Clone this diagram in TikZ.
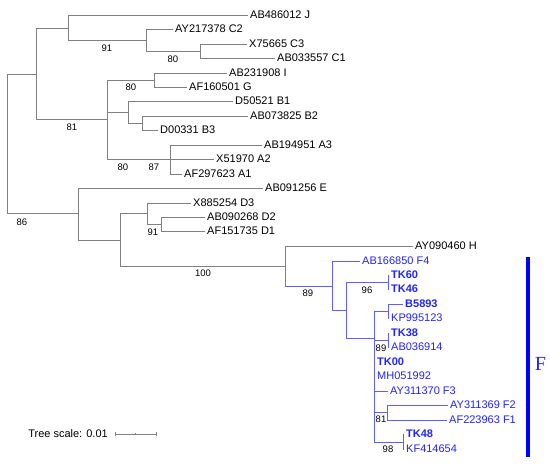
\documentclass[tikz,border=0pt]{standalone}
\usepackage{fontspec}
\usetikzlibrary{calc}
\setmainfont{Liberation Sans}
\newfontfamily\serifF{Liberation Serif}
\definecolor{brgray}{RGB}{128,128,128}
\definecolor{brblue}{RGB}{95,95,255}
\definecolor{txblue}{RGB}{35,35,255}
\definecolor{barblue}{RGB}{0,0,255}
\tikzset{
  leaf/.style={anchor=west, inner xsep=2pt, inner ysep=0pt, font=\fontsize{11}{11}\selectfont, text height=7.9pt, text depth=0pt},
  bleaf/.style={leaf, text=txblue},
  bbold/.style={leaf, text=txblue, font=\fontsize{11}{11}\selectfont\bfseries},
  boot/.style={font=\fontsize{9.5}{9.5}\selectfont, inner sep=0pt},
  gbr/.style={draw=brgray, line width=0.9pt},
  bbr/.style={draw=brblue, line width=0.9pt},
}
\begin{document}
\begin{tikzpicture}[x=1pt,y=-1pt]
\useasboundingbox (0,0) rectangle (550,466);
% internal nodes
\coordinate (R) at (7,143.5);
\coordinate (U) at (36,74);
\coordinate (JC) at (68,28);
\coordinate (C) at (146,40);
\coordinate (C31) at (200,51);
\coordinate (M) at (107,119);
\coordinate (IG) at (154,80);
\coordinate (B) at (128,112);
\coordinate (B23) at (142,123);
\coordinate (A) at (170,159);
\coordinate (L) at (78,213);
\coordinate (DH) at (120,240);
\coordinate (D) at (147,213);
\coordinate (D12) at (161,224);
\coordinate (HF) at (285,266);
\coordinate (F) at (332,286);
\coordinate (Fp) at (346,310);
\coordinate (TK) at (388,282);
\coordinate (P) at (374,338);
\coordinate (Bkp) at (388,311);
\coordinate (T38) at (388,340);
\coordinate (F21) at (387,412);
\coordinate (T48) at (403,442);
% leaves
\node[leaf] (J) at (248,15) {AB486012 J};
\node[leaf] (C2) at (173,29) {AY217378 C2};
\node[leaf] (C3) at (247,44) {X75665 C3};
\node[leaf] (C1) at (275,58) {AB033557 C1};
\node[leaf] (I) at (227,73) {AB231908 I};
\node[leaf] (G) at (187,87) {AF160501 G};
\node[leaf] (B1) at (233,101) {D50521 B1};
\node[leaf] (B2) at (248,116) {AB073825 B2};
\node[leaf] (B3) at (158,130) {D00331 B3};
\node[leaf] (A3) at (262,145) {AB194951 A3};
\node[leaf] (A2) at (214,159) {X51970 A2};
\node[leaf] (A1) at (182,174) {AF297623 A1};
\node[leaf] (E) at (263,188) {AB091256 E};
\node[leaf] (D3) at (191,203) {X885254 D3};
\node[leaf] (D2) at (205,217) {AB090268 D2};
\node[leaf] (D1) at (205,231) {AF151735 D1};
\node[leaf] (H) at (413,246) {AY090460 H};
\node[bleaf] (F4) at (360,261) {AB166850 F4};
\node[bbold] (TK60) at (389,275) {TK60};
\node[bbold] (TK46) at (389,289) {TK46};
\node[bbold] (B5893) at (403,304) {B5893};
\node[bleaf] (KP) at (389,318) {KP995123};
\node[bbold] (TK38) at (389,333) {TK38};
\node[bleaf] (AB036) at (389,347) {AB036914};
\node[bbold] (TK00) at (375,362) {TK00};
\node[bleaf] (MH) at (375,376) {MH051992};
\node[bleaf] (F3) at (388,391) {AY311370 F3};
\node[bleaf] (F2) at (448,405) {AY311369 F2};
\node[bleaf] (F1) at (447,420) {AF223963 F1};
\node[bbold] (TK48) at (404,434) {TK48};
\node[bleaf] (KF) at (404,449) {KF414654};
% gray branches
\draw[gbr] (R) |- (U);
\draw[gbr] (R) |- (L);
\draw[gbr] (U) |- (JC);
\draw[gbr] (U) |- (M);
\draw[gbr] (JC) |- (J.west);
\draw[gbr] (JC) |- (C);
\draw[gbr] (C) |- (C2.west);
\draw[gbr] (C) |- (C31);
\draw[gbr] (C31) |- (C3.west);
\draw[gbr] (C31) |- (C1.west);
\draw[gbr] (M) |- (IG);
\draw[gbr] (M) |- (B);
\draw[gbr] (M) |- (A);
\draw[gbr] (IG) |- (I.west);
\draw[gbr] (IG) |- (G.west);
\draw[gbr] (B) |- (B1.west);
\draw[gbr] (B) |- (B23);
\draw[gbr] (B23) |- (B2.west);
\draw[gbr] (B23) |- (B3.west);
\draw[gbr] (A) |- (A3.west);
\draw[gbr] (A) -- (A2.west);
\draw[gbr] (A) |- (A1.west);
\draw[gbr] (L) |- (E.west);
\draw[gbr] (L) |- (DH);
\draw[gbr] (DH) |- (D);
\draw[gbr] (DH) |- (HF);
\draw[gbr] (D) |- (D3.west);
\draw[gbr] (D) |- (D12);
\draw[gbr] (D12) |- (D2.west);
\draw[gbr] (D12) |- (D1.west);
\draw[gbr] (HF) |- (H.west);
\draw[gbr] (HF) -- (HF |- F);
% blue branches
\draw[bbr] (HF |- F) -- (F);
\draw[bbr] (F) |- (F4.west);
\draw[bbr] (F) |- (Fp);
\draw[bbr] (Fp) |- (TK);
\draw[bbr] (Fp) |- (P);
\draw[bbr] (TK) |- (TK60.west);
\draw[bbr] (TK) |- (TK46.west);
\draw[bbr] (P) |- (Bkp);
\draw[bbr] (P) |- (T38);
\draw[bbr] (P) |- (TK00.west);
\draw[bbr] (P) |- (MH.west);
\draw[bbr] (P) |- (F3.west);
\draw[bbr] (P) |- (F21);
\draw[bbr] (P) |- (T48);
\draw[bbr] (Bkp) |- (B5893.west);
\draw[bbr] (Bkp) |- (KP.west);
\draw[bbr] (T38) |- (TK38.west);
\draw[bbr] (T38) |- (AB036.west);
\draw[bbr] (F21) |- (F2.west);
\draw[bbr] (F21) |- (F1.west);
\draw[bbr] (T48) |- (TK48.west);
\draw[bbr] (T48) |- (KF.west);
% bootstrap values
\node[boot] (s1) at (107,48) {91};
\node[boot] (s2) at (173,59) {80};
\node[boot] (s3) at (131,87) {80};
\node[boot] (s4) at (72,127) {81};
\node[boot] (s5) at (123,167) {80};
\node[boot] (s6) at (154,167) {87};
\node[boot] (s7) at (22,222) {86};
\node[boot] (s8) at (153,232) {91};
\node[boot] (s9) at (203,273) {100};
\node[boot] (s10) at (308,293) {89};
\node[boot] (s11) at (367,290) {96};
\node[boot] (s12) at (381,348) {89};
\node[boot] (s13) at (381,419) {81};
\node[boot] (s14) at (388,449) {98};
% clade bar
\coordinate (bartop) at (528,257);
\coordinate (barbot) at (528,457);
\draw[draw=barblue, line width=4.2pt] (bartop) -- (barbot);
\node[text=txblue, font=\serifF\fontsize{20}{20}\selectfont, inner sep=0pt] (Flab) at (540.5,364) {F};
% scale bar
\node[anchor=east, inner sep=0pt, font=\fontsize{11}{11}\selectfont, text height=7.9pt, text depth=0pt] (scl) at (108,434) {Tree scale: 0.01};
\coordinate (sa) at (115,434);
\coordinate (sb) at (156,434);
\draw[gbr, line width=0.7pt] (sa) -- (sb);
\draw[gbr, line width=0.7pt] ([yshift=-2pt]sa) -- ([yshift=2pt]sa);
\draw[gbr, line width=0.7pt] ([yshift=-2pt]sb) -- ([yshift=2pt]sb);
\draw[gbr, line width=0.7pt] ($(sa)!0.5!(sb)+(0,-1)$) -- ($(sa)!0.5!(sb)+(0,1)$);
\end{tikzpicture}
\end{document}
